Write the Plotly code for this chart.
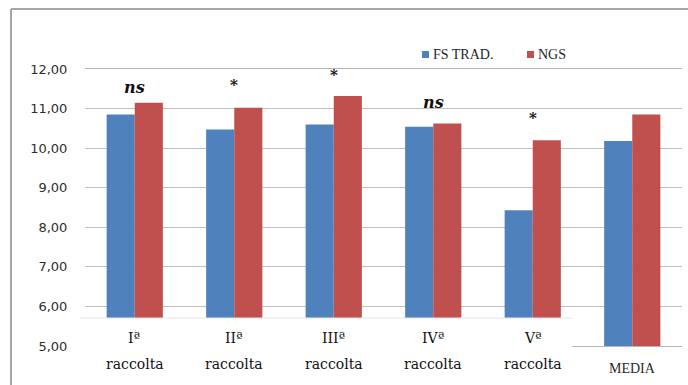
import plotly.graph_objects as go

# Data
categories = ["Iª raccolta", "IIª raccolta", "IIIª raccolta", "IVª raccolta", "Vª raccolta", "MEDIA"]
cat_top = ["Iª", "IIª", "IIIª", "IVª", "Vª", ""]
cat_bottom = ["raccolta", "raccolta", "raccolta", "raccolta", "raccolta", "MEDIA"]
fs_trad = [10.85, 10.47, 10.60, 10.54, 8.43, 10.18]
ngs = [11.15, 11.02, 11.32, 10.62, 10.20, 10.85]
signif = ["ns", "*", "*", "ns", "*", ""]
signif_y = [11.54, 11.60, 11.86, 11.16, 10.76, None]
y_ticks = [5, 6, 7, 8, 9, 10, 11, 12]
y_tick_text = ["5,00", "6,00", "7,00", "8,00", "9,00", "10,00", "11,00", "12,00"]

BLUE = "#4F81BD"
RED = "#C0504D"

W, H = 688, 385
ML, MR, MT, MB = 85, 6, 69, 39
PW, PH = W - ML - MR, H - MT - MB


def px(x):
    return (x - ML) / PW


def py(y):
    return (H - MB - y) / PH


fig = go.Figure()
fig.add_trace(go.Bar(x=categories, y=fs_trad, name="FS TRAD.", marker_color=BLUE,
                     marker_line_width=0))
fig.add_trace(go.Bar(x=categories, y=ngs, name="NGS", marker_color=RED, marker_line_width=0))

shapes = []
# white label panels covering the lower part of the first five groups
shapes.append(dict(type="rect", xref="paper", yref="paper", x0=px(80), x1=px(572),
                   y0=py(H + 5), y1=py(318), fillcolor="white", line_width=0, layer="above"))
shapes.append(dict(type="line", xref="paper", yref="paper", x0=px(80), x1=px(572),
                   y0=py(318), y1=py(318), line=dict(color="#e4e4e4", width=1), layer="above"))
# outer frame
shapes.append(dict(type="line", xref="paper", yref="paper", x0=px(11), x1=px(W + 5),
                   y0=py(9), y1=py(9), line=dict(color="#8a8a8a", width=1.5)))
shapes.append(dict(type="line", xref="paper", yref="paper", x0=px(11), x1=px(11),
                   y0=py(9), y1=py(H + 5), line=dict(color="#8a8a8a", width=1.5)))
# legend swatches
shapes.append(dict(type="rect", xref="paper", yref="paper", x0=px(422), x1=px(429),
                   y0=py(58), y1=py(51), fillcolor=BLUE, line_width=0))
shapes.append(dict(type="rect", xref="paper", yref="paper", x0=px(527), x1=px(534),
                   y0=py(58), y1=py(51), fillcolor=RED, line_width=0))

annotations = []
annotations.append(dict(xref="paper", yref="paper", x=px(431), y=py(55), text="FS TRAD.",
                        showarrow=False, xanchor="left", yanchor="middle",
                        font=dict(family="Liberation Serif", size=14, color="#1f1f1f")))
annotations.append(dict(xref="paper", yref="paper", x=px(536), y=py(55), text="NGS",
                        showarrow=False, xanchor="left", yanchor="middle",
                        font=dict(family="Liberation Serif", size=14, color="#1f1f1f")))

for c, s, sy in zip(categories, signif, signif_y):
    if not s:
        continue
    if s == "ns":
        annotations.append(dict(x=c, y=sy, xref="x", yref="y", text="<b><i>ns</i></b>",
                                showarrow=False, yanchor="middle",
                                font=dict(family="DejaVu Serif", size=16, color="#111111")))
    else:
        annotations.append(dict(x=c, y=sy, xref="x", yref="y", text="<b>*</b>",
                                showarrow=False, yanchor="middle",
                                font=dict(family="DejaVu Serif", size=15, color="#111111")))

for c, t, b in zip(categories, cat_top, cat_bottom):
    if t:
        annotations.append(dict(x=c, y=py(338), xref="x", yref="paper", text=t, showarrow=False,
                                yanchor="middle",
                                font=dict(family="DejaVu Serif", size=14, color="#111111")))
        annotations.append(dict(x=c, y=py(364), xref="x", yref="paper", text=b, showarrow=False,
                                yanchor="middle",
                                font=dict(family="DejaVu Serif", size=14, color="#111111")))
    else:
        annotations.append(dict(x=c, y=py(368), xref="x", yref="paper", text=b, showarrow=False,
                                yanchor="middle",
                                font=dict(family="Liberation Serif", size=14, color="#2a2a2a")))

fig.update_layout(
    width=W, height=H,
    margin=dict(l=ML, r=MR, t=MT, b=MB, pad=0),
    paper_bgcolor="white", plot_bgcolor="white",
    barmode="group", bargap=0.435, bargroupgap=0,
    showlegend=False,
    shapes=shapes, annotations=annotations,
    xaxis=dict(showticklabels=False, ticks="", showgrid=False, showline=True, mirror=True,
               linecolor="#b5b5b5", linewidth=1, fixedrange=True),
    yaxis=dict(range=[5, 12], tickvals=y_ticks, ticktext=y_tick_text,
               showgrid=True, gridcolor="#bfbfbf", gridwidth=1, zeroline=False,
               ticks="outside", ticklen=14, tickcolor="rgba(0,0,0,0)",
               tickfont=dict(family="DejaVu Sans", size=13, color="#2e2e2e")),
)

fig.write_html("out.html")
